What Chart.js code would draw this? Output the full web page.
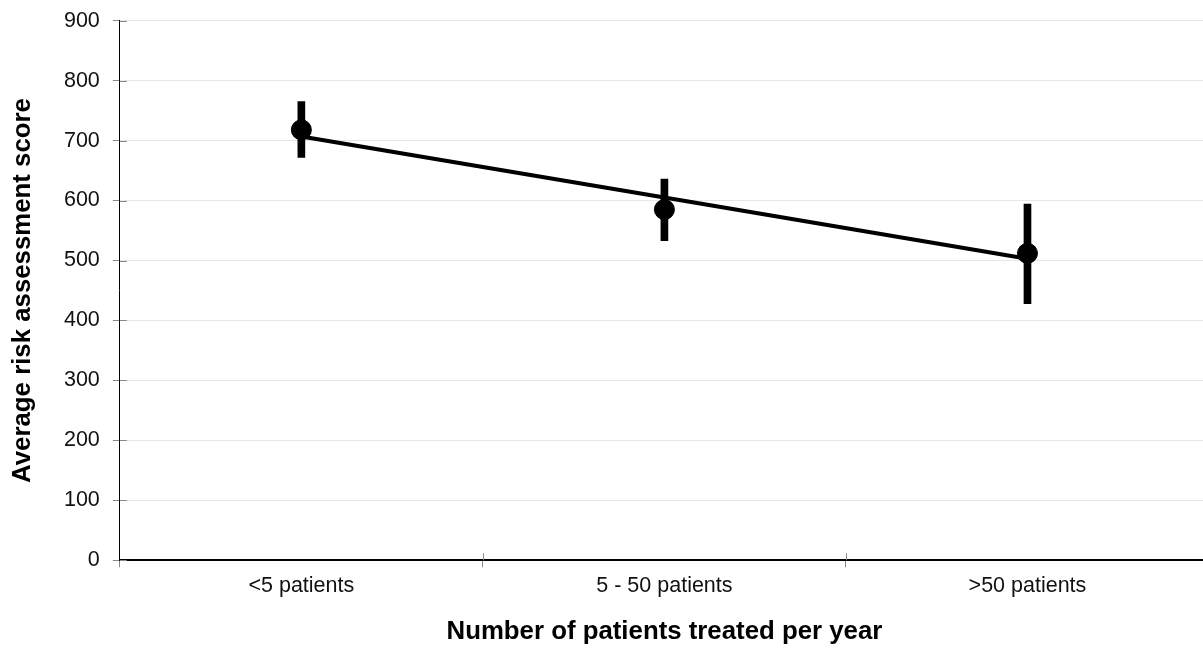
<!DOCTYPE html>
<html>
<head>
<meta charset="utf-8">
<script src="https://cdn.jsdelivr.net/npm/chart.js@4"></script>
<style>
  html, body { margin: 0; padding: 0; background: #fff; overflow: hidden; }
  canvas { display: block; }
</style>
</head>
<body>
<canvas id="c" width="1220" height="648"></canvas>
<script>
const categories = ['<5 patients', '5 - 50 patients', '>50 patients'];
const meanScore = [718, 585, 512];
const errLow = [672, 533, 428];
const errHigh = [765, 636, 594];
const trendScore = [707, 605, 503];
const yTicks = [0, 100, 200, 300, 400, 500, 600, 700, 800, 900];

const font = 'Liberation Sans, Arial, sans-serif';

const errBars = errLow.map((lo, i) => [lo, errHigh[i]]);

// tick marks in this style cross the axis line, so draw the inner half too
const innerTicks = {
  id: 'innerTicks',
  beforeDatasetsDraw(chart) {
    const { ctx, chartArea, scales } = chart;
    ctx.save();
    ctx.strokeStyle = '#888';
    ctx.lineWidth = 1;
    ctx.beginPath();
    for (let i = 1; i < categories.length; i++) {
      const x = Math.round(scales.x.getPixelForValue(i - 0.5)) + 0.5;
      ctx.moveTo(x, chartArea.bottom - 7);
      ctx.lineTo(x, chartArea.bottom);
    }
    yTicks.forEach(v => {
      const y = Math.round(scales.y.getPixelForValue(v)) + 0.5;
      ctx.moveTo(chartArea.left, y);
      ctx.lineTo(chartArea.left + 7, y);
    });
    ctx.stroke();
    ctx.restore();
  }
};

new Chart(document.getElementById('c'), {
  data: {
    labels: categories,
    datasets: [
      {
        type: 'line',
        label: 'mean',
        data: meanScore,
        showLine: false,
        pointRadius: 10,
        pointBackgroundColor: '#000',
        pointBorderColor: '#000',
        order: 1
      },
      {
        type: 'line',
        label: 'trend',
        data: trendScore,
        borderColor: '#000',
        borderWidth: 4,
        pointRadius: 0,
        fill: false,
        order: 2
      },
      {
        type: 'bar',
        label: 'error',
        data: errBars,
        backgroundColor: '#000',
        barThickness: 7,
        order: 3
      }
    ]
  },
  plugins: [innerTicks],
  options: {
    responsive: false,
    animation: false,
    layout: { padding: { top: 0, left: 0, right: 0, bottom: 0 } },
    plugins: {
      legend: { display: false },
      tooltip: { enabled: false }
    },
    scales: {
      x: {
        offset: true,
        grid: {
          offset: true,
          drawOnChartArea: false,
          tickLength: 7,
          tickColor: '#888'
        },
        border: { color: '#000', width: 2 },
        ticks: {
          color: '#111',
          padding: 6,
          font: { family: font, size: 21.5 }
        },
        title: {
          display: true,
          text: 'Number of patients treated per year',
          color: '#000',
          padding: { top: 11, bottom: 1 },
          font: { family: font, size: 25.8, weight: 'bold' }
        }
      },
      y: {
        min: 0,
        max: 900,
        afterBuildTicks: (axis) => { axis.ticks = yTicks.map(v => ({ value: v })); },
        grid: {
          color: '#e6e6e6',
          tickColor: '#888',
          tickLength: 7
        },
        border: { color: '#000', width: 1 },
        ticks: {
          color: '#111',
          padding: 13,
          font: { family: font, size: 21.5, lineHeight: 0.72 }
        },
        title: {
          display: true,
          text: 'Average risk assessment score',
          color: '#000',
          padding: { top: 7, bottom: 13 },
          font: { family: font, size: 25.8, weight: 'bold' }
        }
      }
    }
  }
});
</script>
</body>
</html>
